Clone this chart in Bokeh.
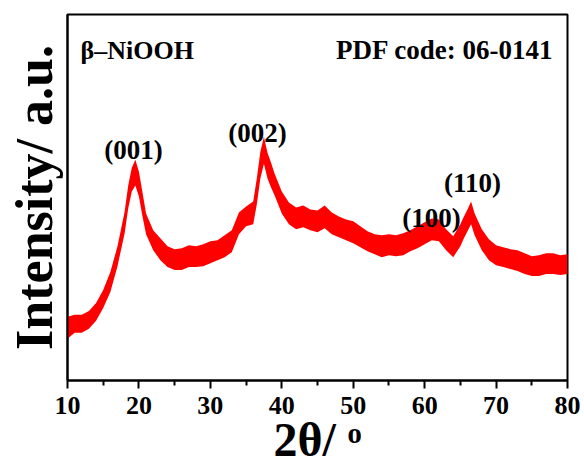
from bokeh.plotting import figure
from bokeh.models import FixedTicker, Label, ColumnDataSource
from bokeh.embed import file_html
from bokeh.resources import INLINE

# ---- data (2theta in degrees, intensity in a.u.) ----
two_theta = [10, 11, 12, 13, 14, 15, 16, 17, 18, 18.5, 19, 19.5, 20, 20.5, 21, 22, 23, 24, 25,
             26, 27, 28, 29, 30, 31, 32, 33, 34, 35, 36, 36.5, 37, 37.5, 38, 38.5, 39, 40,
             41, 42, 43, 44, 45, 46, 47, 48, 49, 50, 51, 52, 53, 54, 55, 56, 57, 58, 59, 60,
             61, 62, 63, 64, 65, 65.5, 66, 66.5, 67, 68, 69, 70, 71, 72, 73, 74, 75, 76, 77,
             78, 79, 80]
intensity_upper = [64, 66, 66, 70, 78, 91, 109, 135, 170, 196, 214, 222, 210, 189, 168, 151, 143, 135, 132,
                   133, 136, 135, 137, 140, 141, 146, 151, 169, 175, 180, 203, 230, 245, 229, 219, 208, 190,
                   179, 174, 176, 172, 171, 176, 169, 165, 162, 160, 155, 150, 147, 146, 147, 146, 148, 151, 155, 159,
                   163, 162, 152, 145, 157, 165, 172, 180, 168, 152, 142, 136, 134, 132, 131, 128, 125, 126, 128,
                   128, 126, 127]
intensity_lower = [42, 48, 48, 52, 60, 73, 89, 115, 148, 173, 190, 196, 185, 165, 147, 131, 121, 114, 111,
                   111, 114, 114, 115, 118, 121, 124, 129, 147, 155, 157, 177, 203, 218, 203, 194, 186, 168,
                   157, 152, 154, 151, 149, 153, 147, 144, 141, 138, 134, 130, 127, 124, 126, 125, 126, 130, 133, 137,
                   141, 140, 131, 124, 135, 143, 150, 157, 146, 131, 121, 116, 114, 112, 110, 107, 105, 105, 107,
                   107, 106, 107]

x_ticks = [10, 20, 30, 40, 50, 60, 70, 80]
x_minor = [15, 25, 35, 45, 55, 65, 75]

peak_labels = ["(001)", "(002)", "(100)", "(110)"]
peak_x = [19.24, 36.6, 60.96, 66.7]
peak_y = [232, 249, 163, 199]

FONT = "Liberation Serif"

p = figure(width=584, height=468, x_range=(10, 80), y_range=(0, 368),
           output_backend="svg", toolbar_location=None,
           min_border_left=67, min_border_right=17, min_border_top=14, min_border_bottom=86)
p.xgrid.visible = False
p.ygrid.visible = False
p.outline_line_color = "black"
p.outline_line_width = 2
p.background_fill_color = "white"
p.border_fill_color = "white"

src = ColumnDataSource(dict(x=two_theta, lo=intensity_lower, hi=intensity_upper))
p.varea(x="x", y1="lo", y2="hi", source=src, fill_color="#ff0000")

xa = p.xaxis[0]
xa.ticker = FixedTicker(ticks=x_ticks, minor_ticks=x_minor)
xa.axis_line_width = 2
xa.major_tick_line_width = 2
xa.minor_tick_line_width = 2
xa.major_tick_in = 0
xa.major_tick_out = 8
xa.minor_tick_in = 0
xa.minor_tick_out = 5
xa.major_label_text_font = FONT
xa.major_label_text_font_style = "bold"
xa.major_label_text_font_size = "26px"
xa.major_label_text_color = "black"
xa.major_label_standoff = 8
xa.axis_label = "2θ/ ᵒ"
xa.axis_label_text_font = FONT
xa.axis_label_text_font_style = "bold"
xa.axis_label_text_font_size = "48px"
xa.axis_label_text_color = "black"
xa.axis_label_text_line_height = 0.8
xa.axis_label_standoff = -4

ya = p.yaxis[0]
ya.ticker = FixedTicker(ticks=[])
ya.axis_line_width = 2
ya.major_tick_in = 0
ya.major_tick_out = 0
ya.minor_tick_in = 0
ya.minor_tick_out = 0
ya.major_label_text_font_size = "0px"
ya.major_label_standoff = 0
ya.axis_label = "Intensity/ a.u."
ya.axis_label_text_font = FONT
ya.axis_label_text_font_style = "bold"
ya.axis_label_text_font_size = "52px"
ya.axis_label_text_color = "black"
ya.axis_label_standoff = 5

def lab(x, y, text, size, align="center"):
    p.add_layout(Label(x=x, y=y, text=text, text_font=FONT, text_font_style="bold",
                       text_font_size=size, text_color="black", text_align=align,
                       text_baseline="alphabetic"))

for t, x, y in zip(peak_labels, peak_x, peak_y):
    lab(x, y, t, "27px")

lab(11.82, 332, "β–NiOOH", "26px", align="left")
lab(78.04, 332, "PDF code: 06-0141", "27px", align="right")

open("out.html", "w").write(file_html(p, INLINE))
